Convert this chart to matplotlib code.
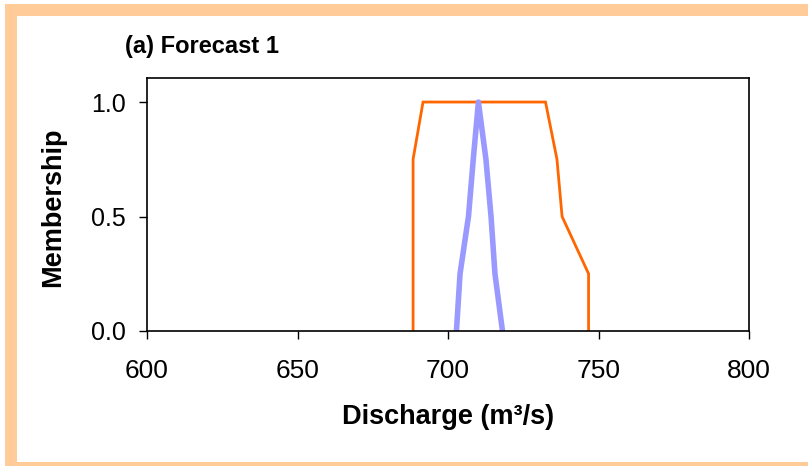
import matplotlib
matplotlib.use("Agg")
import matplotlib.pyplot as plt
from matplotlib.patches import Rectangle

# forecast membership functions
orange_x = [688.4, 688.4, 688.4, 688.4, 691.7, 732.4, 736.2, 737.9, 746.7, 746.7]
orange_y = [0.0, 0.25, 0.5, 0.75, 1.0, 1.0, 0.75, 0.5, 0.25, 0.0]

blue_x = [702.8, 704.0, 706.8, 708.4, 710.1, 712.6, 714.3, 715.6, 718.1]
blue_y = [0.0, 0.25, 0.5, 0.75, 1.0, 0.75, 0.5, 0.25, 0.0]

x_ticks = [600, 650, 700, 750, 800]
y_ticks = [0.0, 0.5, 1.0]
y_tick_labels = ["0.0", "0.5", "1.0"]

plt.rcParams['font.family'] = ['Liberation Sans', 'DejaVu Sans']

W, H = 808, 466
fig = plt.figure(figsize=(W / 100, H / 100), dpi=100)
fig.patch.set_facecolor("white")

# peach frame (top, left, bottom bands)
peach = "#FFCC99"
fig.add_artist(Rectangle((5 / W, 1 - 16 / H), 1 - 5 / W, 12 / H, transform=fig.transFigure,
                         facecolor=peach, edgecolor="none"))
fig.add_artist(Rectangle((5 / W, 0), 12 / W, 1 - 4 / H, transform=fig.transFigure,
                         facecolor=peach, edgecolor="none"))
fig.add_artist(Rectangle((5 / W, 0), 1 - 5 / W, 4 / H, transform=fig.transFigure,
                         facecolor=peach, edgecolor="none"))

ax = fig.add_axes([147 / W, 1 - 331 / H, (749 - 147) / W, (331 - 78) / H])
ax.plot(orange_x, orange_y, color="#FF6600", lw=2.0, solid_joinstyle="miter")
ax.plot(blue_x, blue_y, color="#9999FF", lw=4.0)

ax.set_xlim(600, 800)
ax.set_ylim(0, 1.105)
ax.set_xticks(x_ticks)
ax.set_yticks(y_ticks)
ax.set_yticklabels(y_tick_labels)
ax.tick_params(direction="out", length=6, width=1)
ax.tick_params(axis="x", pad=14, labelsize=19)
ax.tick_params(axis="y", pad=9, labelsize=18)
for s in ax.spines.values():
    s.set_linewidth(1.2)
    s.set_color("black")

fig.text(448 / W, 1 - 417 / H, "Discharge (m\u00b3/s)", fontsize=19.5, fontweight="bold",
         ha="center", va="center")
fig.text(53 / W, 1 - 207 / H, "Membership", fontsize=19.5, fontweight="bold",
         ha="center", va="center", rotation=90)
fig.text(125 / W, 1 - 53 / H, "(a) Forecast 1", fontsize=17, fontweight="bold",
         va="baseline", ha="left")

fig.savefig("out.png", dpi=100)
